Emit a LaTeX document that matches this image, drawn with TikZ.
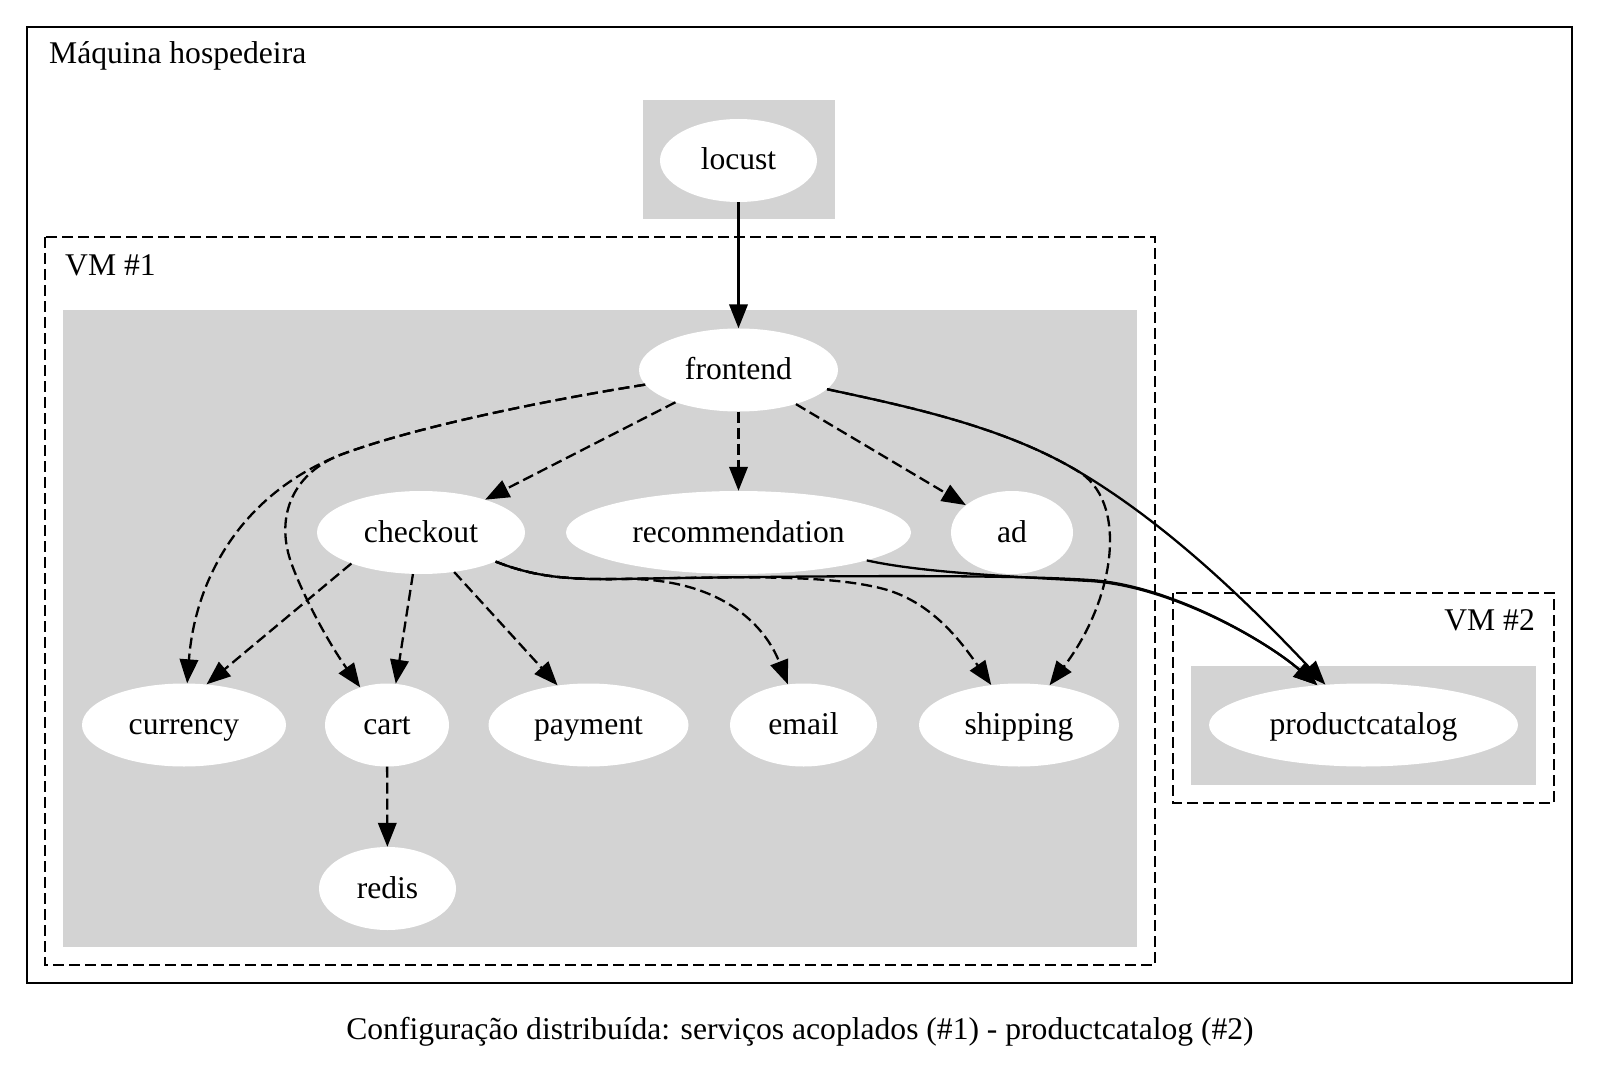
\documentclass[tikz,border=0pt]{standalone}
\usepackage{fontspec}
\setmainfont{Liberation Serif}
\usetikzlibrary{arrows.meta,shapes.geometric}
\definecolor{clustergray}{RGB}{211,211,211}
\begin{document}
\begin{tikzpicture}[x=1pt,y=-1pt,
  every node/.style={font=\fontsize{31.6pt}{38pt}\selectfont},
  svc/.style={ellipse, fill=white, inner sep=0pt, minimum height=83pt, text height=22pt, text depth=3pt},
  grayarea/.style={fill=clustergray},
  vmbox/.style={draw=black, line width=2.2pt, dash pattern=on 11pt off 5pt},
  hostbox/.style={draw=black, line width=2.2pt},
  conn/.style={line width=2.3pt, -{Triangle[length=24pt,width=18.5pt]}},
  dep/.style={conn, dash pattern=on 11pt off 5pt},
  lbl/.style={inner sep=0pt}
]
\useasboundingbox (0,0) rectangle (1600,1067);

% host machine
\draw[hostbox] (27,27) rectangle (1572,983);
\node[lbl, anchor=base west] (hostlabel) at (49,64) {Máquina hospedeira};

% locust cluster
\fill[grayarea] (643,100) rectangle (835,219);

% VM #1
\draw[vmbox] (45,237) rectangle (1155,965);
\node[lbl, anchor=base west] (vm1label) at (65,276) {VM \#1};
\fill[grayarea] (63,310) rectangle (1137,947);

% VM #2
\draw[vmbox] (1173,593) rectangle (1554,803);
\node[lbl, anchor=base east] (vm2label) at (1535,630) {VM \#2};
\fill[grayarea] (1191,666) rectangle (1536,785);

% services
\node[svc, minimum width=157pt] (locust) at (738.5,160.5) {locust};
\node[svc, minimum width=199pt] (frontend) at (738.5,370) {frontend};
\node[svc, minimum width=208pt] (checkout) at (421,532.5) {checkout};
\node[svc, minimum width=345pt] (recommendation) at (738.5,532.5) {recommendation};
\node[svc, minimum width=122pt] (ad) at (1012,532.5) {ad};
\node[svc, minimum width=204pt] (currency) at (184,725) {currency};
\node[svc, minimum width=124pt] (cart) at (387,725) {cart};
\node[svc, minimum width=200pt] (payment) at (588.5,725) {payment};
\node[svc, minimum width=147pt] (email) at (803.5,725) {email};
\node[svc, minimum width=200pt] (shipping) at (1019,725) {shipping};
\node[svc, minimum width=137pt] (redis) at (387.5,888.5) {redis};
\node[svc, minimum width=309pt] (productcatalog) at (1363.5,725) {productcatalog};

% straight connectors
\draw[conn] (locust) -- (frontend);
\draw[dep] (frontend) -- (checkout);
\draw[dep] (frontend) -- (recommendation);
\draw[dep] (frontend) -- (ad);
\draw[dep] (cart) -- (redis);
\draw[dep] (checkout.204) -- (currency.61);
\draw[dep] (checkout.259) -- (cart.78);
\draw[dep] (checkout.310) -- (payment.128);

% frontend, right side
\draw[conn] (frontend) .. controls (900,405) and (1000,425) .. (1076,470)
  .. controls (1170,525) and (1255,610) .. (productcatalog);
\draw[dep] (frontend) .. controls (900,405) and (1000,425) .. (1076,470)
  .. controls (1130,500) and (1115,600) .. (shipping);

% frontend, left side
\draw[dep] (frontend) .. controls (560,398) and (420,425) .. (340,455)
  .. controls (240,495) and (195,580) .. (currency);
\draw[dep] (frontend) .. controls (560,398) and (420,425) .. (340,455)
  .. controls (290,475) and (275,520) .. (292,565)
  .. controls (305,600) and (330,645) .. (cart);

% checkout bundle
\draw[dep] (checkout) .. controls (530,575) and (560,580) .. (620,579)
  .. controls (720,577) and (765,625) .. (email);
\draw[dep] (checkout) .. controls (530,575) and (560,580) .. (620,579)
  .. controls (760,576) and (830,576) .. (880,588)
  .. controls (930,600) and (960,640) .. (shipping);
\draw[conn] (checkout) .. controls (530,575) and (560,580) .. (620,579)
  .. controls (800,576) and (1000,574) .. (1090,580)
  .. controls (1170,585) and (1265,640) .. (productcatalog);
\draw[conn] (recommendation) .. controls (920,572) and (1000,576) .. (1090,581)
  .. controls (1170,586) and (1265,640) .. (productcatalog);

% caption
\node[lbl, anchor=base] (caption) at (800,1039) {Configuração distribuída: serviços acoplados (\#1) - productcatalog (\#2)};
\end{tikzpicture}
\end{document}
